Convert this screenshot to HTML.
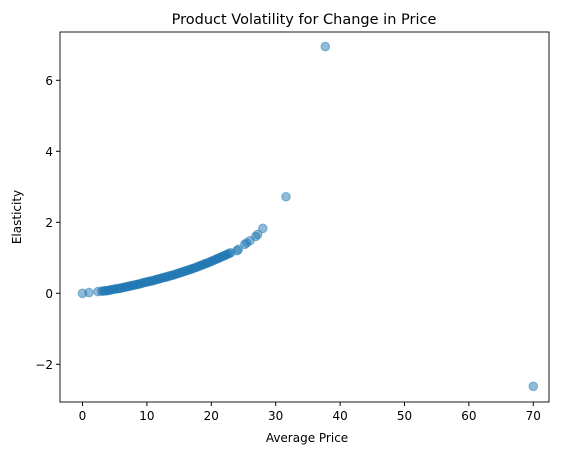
<!DOCTYPE html>
<html><head><meta charset="utf-8"><style>
body{margin:0;background:#fff;font-family:"Liberation Sans","DejaVu Sans",sans-serif}
text{font-family:"DejaVu Sans","Liberation Sans",sans-serif}
</style></head><body>
<svg id="chart" width="565" height="455">
<text x="304" y="24" font-size="14.5" text-anchor="middle">Product Volatility for Change in Price</text>
<text x="307" y="442" font-size="12" text-anchor="middle">Average Price</text>
<text transform="translate(21,217) rotate(-90)" font-size="12" text-anchor="middle">Elasticity</text>
<g id="marks"></g>
<g id="axes"></g>
</svg>
<script>
const prices=[0,1,2.4,3,3.25,3.5,3.75,4,4.25,4.5,4.75,5,5.25,5.5,5.75,6,6.25,6.5,6.75,7,7.25,7.5,7.75,8,8.25,8.5,8.75,9,9.25,9.5,9.75,10,10.25,10.5,10.75,11,11.25,11.5,11.75,12,12.25,12.5,12.75,13,13.25,13.5,13.75,14,14.25,14.5,14.75,15,15.25,15.5,15.75,16,16.25,16.5,16.75,17,17.25,17.5,17.75,18,18.25,18.5,18.75,19,19.25,19.5,19.75,20,20.25,20.5,20.75,21,21.25,21.5,21.75,22,22.25,22.5,22.75,23,24,24.2,25.2,25.5,26,26.9,27.2,28,31.6,37.7,70];
const elasticity=[0,0.02,0.05,0.06,0.065,0.07,0.075,0.08,0.09,0.1,0.11,0.12,0.125,0.13,0.14,0.15,0.16,0.17,0.18,0.19,0.2,0.21,0.22,0.23,0.24,0.25,0.26,0.27,0.285,0.3,0.31,0.32,0.33,0.34,0.35,0.36,0.375,0.39,0.4,0.41,0.425,0.44,0.45,0.46,0.475,0.49,0.5,0.51,0.525,0.54,0.555,0.57,0.585,0.6,0.615,0.63,0.645,0.66,0.675,0.69,0.705,0.72,0.74,0.76,0.775,0.79,0.81,0.83,0.845,0.86,0.88,0.9,0.92,0.94,0.96,0.98,1.0,1.02,1.04,1.06,1.08,1.1,1.12,1.14,1.2,1.24,1.38,1.42,1.48,1.6,1.66,1.83,2.72,6.95,-2.62];
const xTicks=[0,10,20,30,40,50,60,70];
const yTicks=[-2,0,2,4,6];
const L=60,R=549,T=32,B=402;
const xs=v=>82.5+v*6.44;
const ys=v=>293.3-v*35.5;
const NS="http://www.w3.org/2000/svg";
const marks=document.getElementById('marks'),axes=document.getElementById('axes');
prices.forEach((p,i)=>{
  const c=document.createElementNS(NS,'circle');
  c.setAttribute('cx',xs(p));c.setAttribute('cy',ys(elasticity[i]));c.setAttribute('r',4.3);
  c.setAttribute('fill','#1f77b4');c.setAttribute('fill-opacity','0.5');
  c.setAttribute('stroke','#1f77b4');c.setAttribute('stroke-opacity','0.5');c.setAttribute('stroke-width','1');
  
  
  marks.appendChild(c);
});
const f=document.createElementNS(NS,'rect');
f.setAttribute('x',L);f.setAttribute('y',T);f.setAttribute('width',R-L);f.setAttribute('height',B-T);
f.setAttribute('fill','none');f.setAttribute('stroke','#000');f.setAttribute('stroke-width','0.9');


axes.appendChild(f);
xTicks.forEach(t=>{
  const x=xs(t);
  const l=document.createElementNS(NS,'line');
  l.setAttribute('x1',x);l.setAttribute('x2',x);l.setAttribute('y1',B);l.setAttribute('y2',B+4);l.setAttribute('stroke','#000');
  
  
  axes.appendChild(l);
  const tx=document.createElementNS(NS,'text');
  tx.setAttribute('x',x);tx.setAttribute('y',B+18);tx.setAttribute('font-size','12');tx.setAttribute('text-anchor','middle');
  tx.textContent=t;
  
  
  axes.appendChild(tx);
});
yTicks.forEach(t=>{
  const y=ys(t);
  const l=document.createElementNS(NS,'line');
  l.setAttribute('x1',L-4);l.setAttribute('x2',L);l.setAttribute('y1',y);l.setAttribute('y2',y);l.setAttribute('stroke','#000');
  
  
  axes.appendChild(l);
  const tx=document.createElementNS(NS,'text');
  tx.setAttribute('x',L-7);tx.setAttribute('y',y+4.5);tx.setAttribute('font-size','12');tx.setAttribute('text-anchor','end');
  tx.textContent=t<0?'\u2212'+(-t):t;
  
  
  axes.appendChild(tx);
});
</script>
</body></html>
